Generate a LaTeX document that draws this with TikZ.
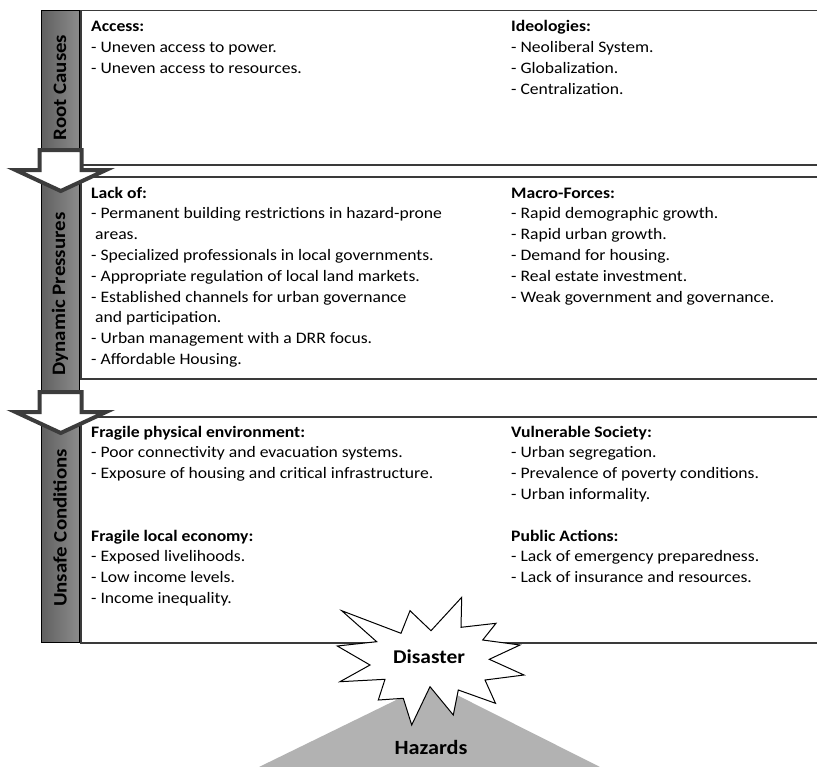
\documentclass[tikz,border=0pt]{standalone}
\usepackage{fontspec}
\setmainfont{Carlito}[FakeStretch=1.1]
\definecolor{boxgray}{HTML}{3A3A3A}
\definecolor{arrowgray}{HTML}{3C3C3C}
\definecolor{bardark}{HTML}{606060}
\definecolor{barlight}{HTML}{8C8C8C}
\definecolor{hazgray}{HTML}{B2B2B2}
\newcommand\txtlines[1]{\begin{tabular}[t]{@{}l@{}}#1\end{tabular}}
\begin{document}
\begin{tikzpicture}[x=1bp,y=-1bp,
  boxst/.style={draw=boxgray, line width=1.5bp, fill=white, anchor=north west, minimum width=780bp, inner sep=0pt},
  barst/.style={draw=black, line width=0.8bp, left color=bardark, right color=barlight, anchor=north west, minimum width=38bp, minimum height=632bp, inner sep=0pt},
  bartxt/.style={rotate=90, inner sep=0pt, font=\fontsize{19bp}{22bp}\selectfont\bfseries},
  body/.style={anchor=base west, inner sep=0pt, font=\fontsize{16bp}{20.8bp}\selectfont},
  blockarrow/.style={draw=arrowgray, line width=4bp, fill=white, line join=miter},
  starst/.style={draw=black, line width=1bp, fill=white, line join=miter},
  bigtxt/.style={anchor=base, inner sep=0pt, font=\fontsize{19.5bp}{24bp}\selectfont\bfseries},
]
\clip (0,0) rectangle (817,767);
\fill[white] (0,0) rectangle (817,767);
% boxes
\node[boxst, minimum height=154bp] (b1) at (80,10) {};
\node[boxst, minimum height=202bp] (b2) at (80,176) {};
\node[boxst, minimum height=226bp] (b3) at (80,416) {};
% hazards triangle
\fill[hazgray] (259,767) -- (432,682.5) -- (600,767) -- cycle;
% left bar
\node[barst] (bar) at (41,10) {};
\node[bartxt] (t1) at (60,87.5) {Root Causes};
\node[bartxt] (t2) at (60,294) {Dynamic Pressures};
\node[bartxt] (t3) at (60,528) {Unsafe Conditions};
% block arrows
\draw[blockarrow] (39.5,150) -- (81.5,150) -- (81.5,170) -- (106,170) -- (60.75,191) -- (15.5,170) -- (39.5,170) -- cycle;
\draw[blockarrow] (39.5,392) -- (81.5,392) -- (81.5,412) -- (106,412) -- (60.75,433) -- (15.5,412) -- (39.5,412) -- cycle;
% texts box 1
\node[body] (a1) at (91,32) {\txtlines{\textbf{Access:}\\- Uneven access to power.\\- Uneven access to resources.}};
\node[body] (a2) at (511,32) {\txtlines{\textbf{Ideologies:}\\- Neoliberal System.\\- Globalization.\\- Centralization.}};
% texts box 2
\node[body] (d1) at (91,198) {\txtlines{\textbf{Lack of:}\\- Permanent  building restrictions in hazard-prone\\\ areas.\\- Specialized professionals in local governments.\\- Appropriate  regulation of local land markets.\\- Established channels for urban governance\\\ and participation.\\- Urban management with a DRR focus.\\- Affordable Housing.}};
\node[body] (d2) at (511,198) {\txtlines{\textbf{Macro-Forces:}\\- Rapid demographic growth.\\- Rapid urban growth.\\- Demand for housing.\\- Real estate investment.\\- Weak government and governance.}};
% texts box 3
\node[body] (u1) at (91,437) {\txtlines{\textbf{Fragile physical environment:}\\- Poor  connectivity and evacuation systems.\\- Exposure of housing and critical infrastructure.}};
\node[body] (u2) at (511,437) {\txtlines{\textbf{Vulnerable Society:}\\- Urban segregation.\\- Prevalence of poverty conditions.\\- Urban informality.}};
\node[body] (u3) at (91,541) {\txtlines{\textbf{Fragile local economy:}\\- Exposed livelihoods.\\- Low income levels.\\- Income  inequality.}};
\node[body] (u4) at (511,541) {\txtlines{\textbf{Public Actions:}\\- Lack of emergency preparedness.\\- Lack of insurance and resources.}};
% star
\draw[starst] (341.7,610.7) -- (401,633.3) -- (410,610.7) -- (431,630.7) -- (461.7,597.3) -- (461,627.3) -- (496,623.3) -- (482.7,640) -- (520,645) -- (489.3,659.3) -- (524,675) -- (485,680) -- (495.5,703.3) -- (458.3,690) -- (453.3,715) -- (430,686.7) -- (411.7,725) -- (403.3,698.3) -- (378.3,700) -- (385,679.3) -- (340,681.7) -- (370,665) -- (337.3,646) -- (376.7,641.7) -- cycle;
\node[bigtxt] (dis) at (429,663) {Disaster};
\node[bigtxt, font=\fontsize{20.2bp}{24bp}\selectfont\bfseries] (haz) at (431,754) {Hazards};
\end{tikzpicture}
\end{document}
